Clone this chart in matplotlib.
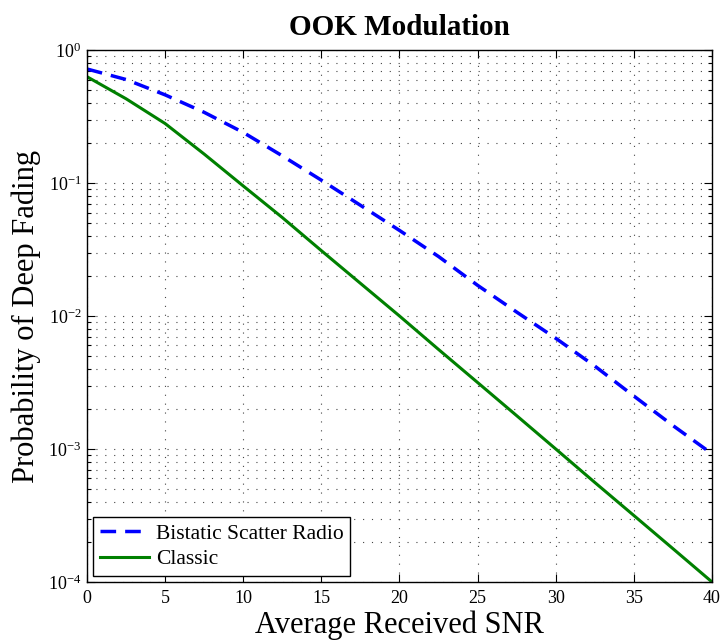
import matplotlib
matplotlib.use("Agg")
import matplotlib.pyplot as plt
from matplotlib.ticker import LogLocator, NullFormatter, MultipleLocator

plt.rcParams['font.family'] = ['Liberation Serif', 'DejaVu Serif']
plt.rcParams['mathtext.fontset'] = 'stix'

# Average received SNR (dB)
snr_db = [0, 2.5, 5, 7.5, 10, 12.5, 15, 17.5, 20, 22.5, 25, 27.5, 30, 32.5, 35, 37.5, 40]

# Probability of deep fading
bistatic = [0.72, 0.60, 0.46, 0.34, 0.24, 0.16, 0.105, 0.068, 0.044, 0.028,
            0.017, 0.0107, 0.0068, 0.0042, 0.0025, 0.0015, 0.00092]
classic = [0.63, 0.43, 0.28, 0.165, 0.095, 0.055, 0.031, 0.0176, 0.0100, 0.0056,
           0.00316, 0.00178, 0.00100, 0.00056, 0.000316, 0.000178, 0.000100]

fig = plt.figure(figsize=(7.23, 6.42), dpi=100)
ax = fig.add_axes([0.1203, 0.0935, 0.8645, 0.8286])

ax.plot(snr_db, bistatic, color=(0, 0, 1), lw=2.5, linestyle=(0, (4.5, 2.6)),
        label='Bistatic Scatter Radio')
ax.plot(snr_db, classic, color=(0, 0.5, 0), lw=2.2, label='Classic')

ax.set_yscale('log')
ax.set_xlim(0, 40)
ax.set_ylim(1e-4, 1)
ax.xaxis.set_major_locator(MultipleLocator(5))
ax.yaxis.set_major_locator(LogLocator(base=10, numticks=10))
ax.yaxis.set_minor_locator(LogLocator(base=10, subs=range(2, 10), numticks=10))
ax.yaxis.set_minor_formatter(NullFormatter())

grid_style = dict(linestyle=(0, (1, 7)), color='#444444', lw=0.8)
ax.grid(True, which='major', axis='both', **grid_style)
ax.grid(True, which='minor', axis='y', **grid_style)

ax.tick_params(which='both', direction='in', top=True, right=True, labelsize=13)
ax.tick_params(axis='x', pad=6)
ax.tick_params(axis='y', pad=4)
ax.tick_params(which='major', length=6, width=0.8)
ax.tick_params(which='minor', length=3, width=0.8)
for s in ax.spines.values():
    s.set_linewidth(1.0)

ax.set_title('OOK Modulation', fontsize=21, fontweight='bold', pad=11)
ax.set_xlabel('Average Received SNR', fontsize=22)
ax.set_ylabel('Probability of Deep Fading', fontsize=22)
ax.xaxis.set_label_coords(0.5, -0.054)
ax.yaxis.set_label_coords(-0.074, 0.5)

leg = ax.legend(loc='lower left', fontsize=15.5, frameon=True, fancybox=False,
                edgecolor='black', framealpha=1, borderpad=0.3, handlelength=2.3,
                handletextpad=0.3, labelspacing=0.25, borderaxespad=0.3)
leg.get_frame().set_linewidth(1.0)

fig.savefig('out.png', dpi=100)
